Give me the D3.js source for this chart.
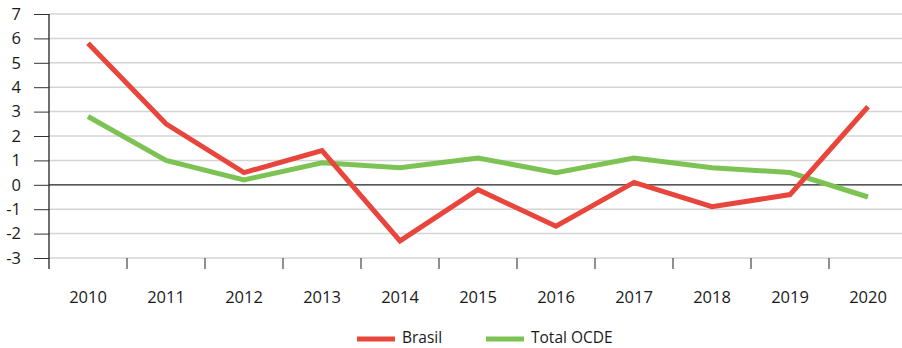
<!DOCTYPE html>
<html>
<head>
<meta charset="utf-8">
<script src="https://cdn.jsdelivr.net/npm/d3@7"></script>
<style>
  html, body { margin: 0; padding: 0; background: #fff; }
  svg { display: block; font-family: "Open Sans", sans-serif; }
</style>
</head>
<body>
<svg id="chart" width="902" height="348"></svg>
<script>
// Annual values, 2010–2020
const years = ["2010","2011","2012","2013","2014","2015","2016","2017","2018","2019","2020"];
const brasil = [5.8, 2.5, 0.5, 1.4, -2.3, -0.2, -1.7, 0.1, -0.9, -0.4, 3.2];
const ocde   = [2.8, 1.0, 0.2, 0.9, 0.7, 1.1, 0.5, 1.1, 0.7, 0.5, -0.5];
const yTicks = [7, 6, 5, 4, 3, 2, 1, 0, -1, -2, -3];
const seriesNames = ["Brasil", "Total OCDE"];
const seriesColors = ["#e8453c", "#7dc353"];

const svg = d3.select("#chart");
const W = 902;
const plotLeft = 49, plotTop = 14, plotBottom = 258;

const x = d3.scaleBand().domain(years).range([plotLeft, 907]);
const y = d3.scaleLinear().domain([-3, 7]).range([plotBottom, plotTop]);

// horizontal gridlines
svg.append("g").selectAll("line").data(yTicks.filter(d => d !== 0)).join("line")
  .attr("x1", plotLeft).attr("x2", W)
  .attr("y1", d => y(d)).attr("y2", d => y(d))
  .attr("stroke", "#d4d4d4").attr("stroke-width", 1.5);

// y axis (plain hyphen for negatives)
const yAxis = svg.append("g").attr("transform", `translate(${plotLeft},0)`)
  .call(d3.axisLeft(y).tickValues(yTicks).tickFormat(d => String(d)).tickSize(15).tickPadding(13));
yAxis.select(".domain").remove();
yAxis.selectAll(".tick line").attr("stroke", "#333").attr("stroke-width", 1);
yAxis.selectAll("text").attr("font-size", 16.5).attr("fill", "#1a1a1a").attr("font-family", "Open Sans, sans-serif");
svg.append("line").attr("x1", plotLeft).attr("x2", plotLeft).attr("y1", plotTop).attr("y2", 269)
  .attr("stroke", "#222").attr("stroke-width", 1.3);

// x axis: ticks at band boundaries, labels centred under each band
const xg = svg.append("g");
xg.selectAll("line").data(years.slice(1)).join("line")
  .attr("x1", d => x(d)).attr("x2", d => x(d))
  .attr("y1", plotBottom).attr("y2", 269)
  .attr("stroke", "#444").attr("stroke-width", 1.2);
xg.selectAll("text").data(years).join("text")
  .attr("x", d => x(d) + x.bandwidth() / 2).attr("y", 303)
  .attr("text-anchor", "middle").attr("font-size", 16.5).attr("fill", "#1a1a1a")
  .text(d => d);

// zero line
svg.append("line").attr("x1", plotLeft).attr("x2", W).attr("y1", y(0)).attr("y2", y(0))
  .attr("stroke", "#222").attr("stroke-width", 1.2);

// series lines (OCDE first so Brasil sits on top)
const line = d3.line()
  .x((d, i) => x(years[i]) + x.bandwidth() / 2)
  .y(d => y(d));
[[ocde, 1], [brasil, 0]].forEach(([vals, idx]) => {
  svg.append("path").datum(vals)
    .attr("d", line)
    .attr("fill", "none")
    .attr("stroke", seriesColors[idx])
    .attr("stroke-width", 5)
    .attr("stroke-linejoin", "miter");
});

// legend
const legendPos = [357, 486];
const lg = svg.append("g");
seriesNames.forEach((name, i) => {
  lg.append("line").attr("x1", legendPos[i]).attr("x2", legendPos[i] + 38)
    .attr("y1", 339).attr("y2", 339)
    .attr("stroke", seriesColors[i]).attr("stroke-width", 5);
  lg.append("text").attr("x", legendPos[i] + 45).attr("y", 343)
    .attr("font-size", 15.5).attr("fill", "#1a1a1a").text(name);
});
</script>
</body>
</html>
